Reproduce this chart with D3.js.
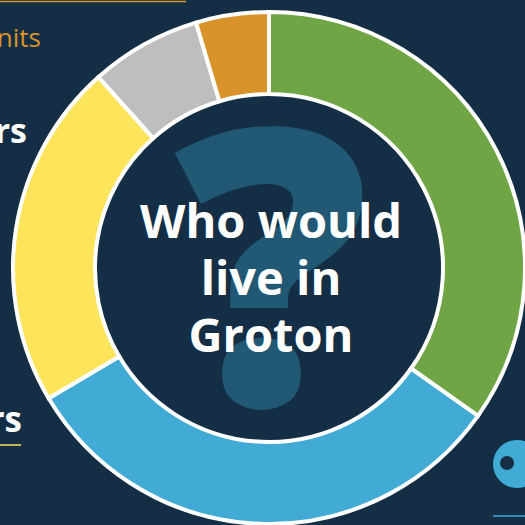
<!DOCTYPE html>
<html>
<head>
<meta charset="utf-8">
<script src="https://cdn.jsdelivr.net/npm/d3@7"></script>
<style>
  body { margin: 0; background: #142f45; }
  svg { display: block; }
</style>
</head>
<body>
<svg id="chart" width="525" height="525"></svg>
<script>
// Segment shares (clockwise from 12 o'clock)
const groups = ["Green", "Blue", "Yellow", "Gray", "Orange"]
const shares = [34.8, 31.7, 21.9, 7.0, 4.6]
const colors = ["#6fa544", "#41aad5", "#fee45a", "#bebebe", "#d8932a"]
const titleLines = ["Who would", "live in", "Groton"]

const svg = d3.select("#chart")
const width = 525, height = 525
const cx = 269, cy = 268

svg.append("rect")
  .attr("width", width)
  .attr("height", height)
  .attr("fill", "#142f45")

// Side decorations, only the parts inside the frame are shown
svg.append("line")
  .attr("x1", 0).attr("x2", 186)
  .attr("y1", 1.5).attr("y2", 1.5)
  .attr("stroke", "#d8932a")
  .attr("stroke-width", 1.5)

svg.append("text")
  .attr("x", 41).attr("y", 47)
  .attr("text-anchor", "end")
  .attr("font-family", "Open Sans, sans-serif")
  .attr("font-size", 26)
  .attr("fill", "#d8932a")
  .text("nits")

svg.append("text")
  .attr("x", 27).attr("y", 143)
  .attr("text-anchor", "end")
  .attr("font-family", "Open Sans, sans-serif")
  .attr("font-weight", 700)
  .attr("font-size", 34)
  .attr("fill", "#ffffff")
  .text("rs")

svg.append("text")
  .attr("x", 22).attr("y", 432)
  .attr("text-anchor", "end")
  .attr("font-family", "Open Sans, sans-serif")
  .attr("font-weight", 700)
  .attr("font-size", 35)
  .attr("fill", "#ffffff")
  .text("rs")

svg.append("line")
  .attr("x1", 0).attr("x2", 21)
  .attr("y1", 445).attr("y2", 445)
  .attr("stroke", "#fee45a")
  .attr("stroke-width", 1.5)

// bottom-right icon
svg.append("circle")
  .attr("cx", 517).attr("cy", 464).attr("r", 24)
  .attr("fill", "#41aad5")
svg.append("circle")
  .attr("cx", 507).attr("cy", 463).attr("r", 7)
  .attr("fill", "#142f45")
svg.append("line")
  .attr("x1", 493).attr("x2", 525)
  .attr("y1", 516).attr("y2", 516)
  .attr("stroke", "#41aad5")
  .attr("stroke-width", 1.5)

// Donut
const g = svg.append("g")
  .attr("transform", `translate(${cx},${cy})`)

const pie = d3.pie().sort(null).value(d => d)
const arc = d3.arc().innerRadius(174).outerRadius(256)

g.selectAll(".slice")
  .data(pie(shares))
  .enter()
  .append("path")
  .attr("class", "slice")
  .attr("d", arc)
  .attr("fill", (d, i) => colors[i])
  .attr("stroke", "#ffffff")
  .attr("stroke-width", 4)
  .attr("stroke-linejoin", "miter")

// Big question mark behind the title
g.append("text")
  .attr("x", 3)
  .attr("y", 137)
  .attr("text-anchor", "middle")
  .attr("font-family", "Open Sans, sans-serif")
  .attr("font-weight", 800)
  .attr("font-size", 385)
  .attr("fill", "#215873")
  .text("?")

g.selectAll(".title")
  .data(titleLines)
  .enter()
  .append("text")
  .attr("class", "title")
  .attr("x", 2)
  .attr("y", (d, i) => -30 + i * 57)
  .attr("text-anchor", "middle")
  .attr("font-family", "Open Sans, sans-serif")
  .attr("font-weight", 700)
  .attr("font-size", 47)
  .attr("fill", "#ffffff")
  .text(d => d)
</script>
</body>
</html>
